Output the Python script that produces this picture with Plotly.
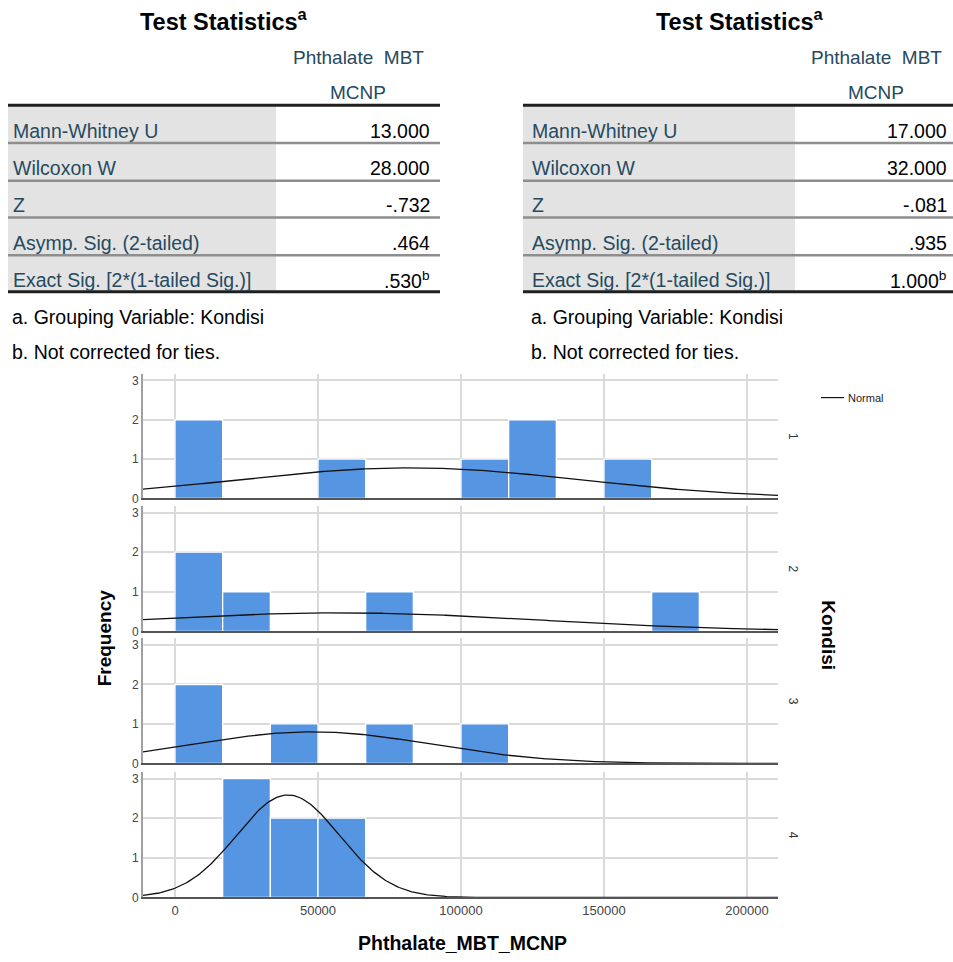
import numpy as np
import plotly.graph_objects as go
from plotly.subplots import make_subplots

W, H = 953, 962
FONT = "Liberation Sans, Arial, sans-serif"

# ---- Mann-Whitney test statistics (two comparisons) ----
TABLE_TITLE = "Test Statistics<sup>a</sup>"
COLUMN_HEADER = ["Phthalate\u00a0 MBT", "MCNP"]
STAT_LABELS = [
    "Mann-Whitney U",
    "Wilcoxon W",
    "Z",
    "Asymp. Sig. (2-tailed)",
    "Exact Sig. [2*(1-tailed Sig.)]",
]
STATS_LEFT = ["13.000", "28.000", "-.732", ".464", ".530<sup>b</sup>"]
STATS_RIGHT = ["17.000", "32.000", "-.081", ".935", "1.000<sup>b</sup>"]
FOOTNOTES = ["a. Grouping Variable: Kondisi", "b. Not corrected for ties."]

# ---- Histogram of Phthalate_MBT_MCNP by Kondisi ----
GROUPS = ["1", "2", "3", "4"]
N_BINS = 12
BIN_WIDTH = 200000 / N_BINS
COUNTS_K1 = [2, 0, 0, 1, 0, 0, 1, 2, 0, 1, 0, 0]
COUNTS_K2 = [2, 1, 0, 0, 1, 0, 0, 0, 0, 0, 1, 0]
COUNTS_K3 = [2, 0, 1, 0, 1, 0, 1, 0, 0, 0, 0, 0]
COUNTS_K4 = [0, 3, 2, 2, 0, 0, 0, 0, 0, 0, 0, 0]
# fitted normal curve parameters per group
NORMAL_MEAN = [82000, 57000, 48000, 39500]
NORMAL_SD = [60000, 71000, 41500, 18000]
X_TICKS = [0, 50000, 100000, 150000, 200000]
Y_TICKS = [0, 1, 2, 3]

X_RANGE = [-11190, 210840]
Y_RANGE = [0, 3.17]
BAR_COLOR = "#5595e2"


def px(x):
    return x / W


def py(y):
    return 1 - y / H


fig = make_subplots(rows=4, cols=1)

all_counts = [COUNTS_K1, COUNTS_K2, COUNTS_K3, COUNTS_K4]
panel_px = [(376.5, 502), (509.5, 636), (643, 769), (777.5, 904)]
curve_x = np.linspace(X_RANGE[0], X_RANGE[1], 400)

for i, counts in enumerate(all_counts):
    row = i + 1
    centers = [(k + 0.5) * BIN_WIDTH for k, c in enumerate(counts) if c > 0]
    heights = [c for c in counts if c > 0]
    fig.add_trace(
        go.Bar(
            x=centers,
            y=heights,
            width=BIN_WIDTH,
            marker=dict(color=BAR_COLOR, line=dict(color="white", width=1.3)),
            showlegend=False,
            hoverinfo="x+y",
        ),
        row=row,
        col=1,
    )
    n = sum(counts)
    mu, sd = NORMAL_MEAN[i], NORMAL_SD[i]
    dens = n * BIN_WIDTH * np.exp(-0.5 * ((curve_x - mu) / sd) ** 2) / (sd * np.sqrt(2 * np.pi))
    fig.add_trace(
        go.Scatter(
            x=curve_x,
            y=dens,
            mode="lines",
            line=dict(color="#111111", width=1.3),
            name="Normal",
            showlegend=False,
            hoverinfo="skip",
        ),
        row=row,
        col=1,
    )

for i, (top, bot) in enumerate(panel_px):
    sfx = "" if i == 0 else str(i + 1)
    fig.layout["yaxis" + sfx].domain = [py(bot), py(top)]
    fig.layout["xaxis" + sfx].domain = [px(143), px(778)]

fig.update_xaxes(
    range=X_RANGE,
    tickvals=X_TICKS,
    ticktext=[str(v) for v in X_TICKS],
    showgrid=True,
    gridcolor="#dadada",
    gridwidth=1.5,
    zeroline=False,
    showline=True,
    linecolor="#555555",
    linewidth=2,
    ticks="",
    showticklabels=False,
    tickfont=dict(family=FONT, size=13, color="#444444"),
)
fig.update_xaxes(showticklabels=True, row=4, col=1)
fig.update_yaxes(
    range=Y_RANGE,
    tickvals=Y_TICKS,
    showgrid=True,
    gridcolor="#dadada",
    gridwidth=1.5,
    zeroline=False,
    showline=True,
    linecolor="#a0a0a0",
    linewidth=2,
    ticks="",
    tickfont=dict(family=FONT, size=12, color="#444444"),
)

shapes = []
annotations = []


def text(x, y, s, size, color="#010205", bold=False, xanchor="left", angle=0):
    if bold:
        s = "<b>" + s + "</b>"
    annotations.append(
        dict(
            x=px(x), y=py(y), xref="paper", yref="paper", text=s, showarrow=False,
            xanchor=xanchor, yanchor="middle", textangle=angle,
            font=dict(family=FONT, size=size, color=color),
        )
    )


def hline(x0, x1, y, color, width):
    shapes.append(
        dict(type="line", xref="paper", yref="paper", x0=px(x0), x1=px(x1),
             y0=py(y), y1=py(y), line=dict(color=color, width=width))
    )


def draw_table(x0, x1, split, values, label_x):
    # grey label column
    shapes.append(
        dict(type="rect", xref="paper", yref="paper", x0=px(x0), x1=px(split),
             y0=py(294), y1=py(106), fillcolor="#e3e3e3", line=dict(width=0), layer="below")
    )
    text((x0 + x1) / 2, 20, TABLE_TITLE, 23.5, bold=True, xanchor="center")
    col_c = (split + x1) / 2
    text(col_c, 58, COLUMN_HEADER[0], 19, color="#264a60", xanchor="center")
    text(col_c, 93, COLUMN_HEADER[1], 19, color="#264a60", xanchor="center")
    hline(x0, x1, 106, "#1f1f1f", 3)
    row_y = [132, 169, 207, 245, 282]
    for k, (lab, val) in enumerate(zip(STAT_LABELS, values)):
        text(label_x, row_y[k], lab, 19.5, color="#264a60")
        text(x1 - 8, row_y[k], val, 19.5, xanchor="right")
    for y in [144, 182, 219, 257]:
        hline(x0, x1, y, "#8e8e8e", 2.5)
    hline(x0, x1, 294, "#1f1f1f", 3)
    text(label_x - 1, 319, FOOTNOTES[0], 19.5)
    text(label_x - 1, 355, FOOTNOTES[1], 19.5)


draw_table(8, 440, 276, STATS_LEFT, 11)
draw_table(523, 957, 795, STATS_RIGHT, 530)

# axis titles and panel labels
text(104, 643, "Frequency", 19, bold=True, xanchor="center", angle=-90)
text(462, 950, "Phthalate_MBT_MCNP", 19.5, bold=True, xanchor="center")
text(829, 640, "Kondisi", 19, bold=True, xanchor="center", angle=90)
for g, (top, bot) in zip(GROUPS, panel_px):
    text(793, (top + bot) / 2, g, 12, color="#333333", xanchor="center", angle=90)

# legend entry for the fitted curve
hline(821, 844, 400.5, "#111111", 1.2)
text(846, 400.5, "Normal", 11, color="#222222")

fig.update_layout(
    width=W,
    height=H,
    autosize=False,
    margin=dict(l=0, r=0, t=0, b=0),
    paper_bgcolor="white",
    plot_bgcolor="white",
    barmode="overlay",
    showlegend=False,
    shapes=shapes,
    annotations=annotations,
    font=dict(family=FONT),
)

fig.write_html("out.html")
